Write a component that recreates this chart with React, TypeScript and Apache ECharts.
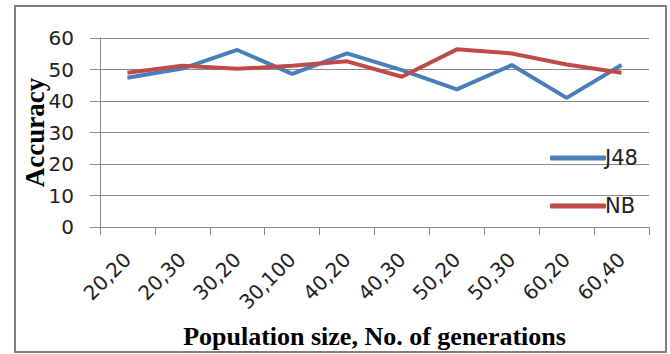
import React, { useEffect, useRef } from "react";
import * as echarts from "echarts";

const categories = ["20,20", "20,30", "30,20", "30,100", "40,20", "40,30", "50,20", "50,30", "60,20", "60,40"];
const j48Values = [47.4, 50.3, 56.2, 48.6, 55.1, 49.8, 43.7, 51.4, 41.0, 51.4];
const nbValues = [49.0, 51.2, 50.2, 51.2, 52.6, 47.7, 56.4, 55.1, 51.6, 49.0];
const seriesNames = ["J48", "NB"];
const xAxisTitle = "Population size, No. of generations";
const yAxisTitle = "Accuracy";

export default function App() {
  const ref = useRef<HTMLDivElement>(null);
  useEffect(() => {
    document.body.style.margin = "0";
    if (!ref.current) return;
    const chart = echarts.init(ref.current, undefined, { renderer: "svg" });
    const labelFont = "DejaVu Sans";
    const gray = "#8a8a8a";
    chart.setOption({
      animation: false,
      backgroundColor: "#ffffff",
      graphic: [
        {
          type: "rect",
          shape: { x: 15, y: 6, width: 651, height: 346 },
          style: { fill: "none", stroke: "#7f7f7f", lineWidth: 2 },
          z: -10,
        },
      ],
      grid: { left: 100, top: 38, width: 549, height: 189, containLabel: false },
      legend: {
        orient: "vertical",
        left: 545,
        top: 142,
        itemWidth: 56,
        itemHeight: 5,
        itemGap: 26,
        icon: "roundRect",
        textStyle: { fontFamily: labelFont, fontSize: 21, color: "#222", lineHeight: 22, padding: [0, 0, 0, -6] },
        data: seriesNames,
      },
      xAxis: {
        type: "category",
        data: categories,
        boundaryGap: true,
        name: xAxisTitle,
        nameLocation: "middle",
        nameGap: 96,
        nameMoveOverlap: false,
        nameTextStyle: { fontFamily: "Liberation Serif", fontWeight: "bold", fontSize: 26, color: "#000" },
        axisLine: { lineStyle: { color: gray, width: 1 } },
        axisTick: { show: true, length: 8, lineStyle: { color: gray } },
        axisLabel: { rotate: 45, margin: 29, fontFamily: labelFont, fontSize: 20, color: "#222", interval: 0 },
        splitLine: { show: false },
      },
      yAxis: {
        type: "value",
        min: 0,
        max: 60,
        interval: 10,
        name: yAxisTitle,
        nameLocation: "middle",
        nameGap: 52,
        nameMoveOverlap: false,
        nameRotate: 90,
        nameTextStyle: { fontFamily: "Liberation Serif", fontWeight: "bold", fontSize: 27, color: "#000" },
        axisLine: { show: true, lineStyle: { color: gray, width: 1 } },
        axisTick: { show: true, length: 10, lineStyle: { color: gray } },
        axisLabel: { margin: 26, fontFamily: labelFont, fontSize: 20, color: "#222" },
        splitLine: { show: true, lineStyle: { color: gray, width: 1 } },
      },
      series: [
        {
          name: seriesNames[0],
          type: "line",
          data: j48Values,
          symbol: "none",
          lineStyle: { color: "#4A7EBB", width: 4 },
          itemStyle: { color: "#4A7EBB" },
          z: 2,
        },
        {
          name: seriesNames[1],
          type: "line",
          data: nbValues,
          symbol: "none",
          lineStyle: { color: "#BE4B48", width: 4 },
          itemStyle: { color: "#BE4B48" },
          z: 3,
        },
      ],
    });
    return () => chart.dispose();
  }, []);
  return <div ref={ref} style={{ width: 670, height: 354 }} />;
}
